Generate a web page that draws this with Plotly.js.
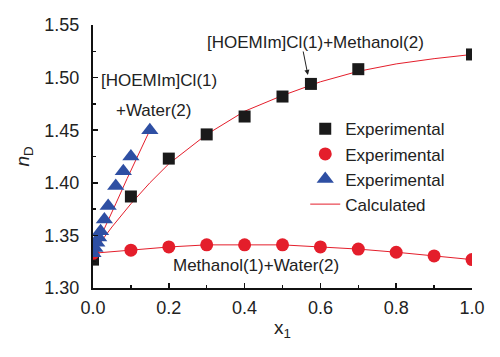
<!DOCTYPE html>
<html>
<head>
<meta charset="utf-8">
<script src="https://cdn.plot.ly/plotly-3.0.1.min.js"></script>
<style>html,body{margin:0;padding:0;background:#fff;}#chart{width:500px;height:357px;}</style>
</head>
<body>
<div id="chart"></div>
<script>
// [HOEMIm]Cl(1) + Methanol(2)
const x_meoh = [0, 0.1, 0.2, 0.3, 0.4, 0.5, 0.575, 0.7, 1.0];
const n_meoh = [1.327, 1.387, 1.423, 1.446, 1.463, 1.482, 1.494, 1.508, 1.522];
const xc_meoh = [0, 0.025, 0.05, 0.1, 0.15, 0.2, 0.3, 0.4, 0.5, 0.6, 0.7, 0.8, 0.9, 1.0];
const nc_meoh = [1.332, 1.346, 1.358, 1.380, 1.400, 1.418, 1.446, 1.468, 1.483, 1.496, 1.506, 1.513, 1.518, 1.522];
// Methanol(1) + Water(2)
const x_mw = [0, 0.1, 0.2, 0.3, 0.4, 0.5, 0.6, 0.7, 0.8, 0.9, 1.0];
const n_mw = [1.333, 1.336, 1.339, 1.341, 1.341, 1.341, 1.339, 1.337, 1.334, 1.3305, 1.327];
const nc_mw = [1.333, 1.336, 1.339, 1.341, 1.341, 1.341, 1.339, 1.337, 1.334, 1.3305, 1.327];
// [HOEMIm]Cl(1) + Water(2)
const x_w = [0, 0.005, 0.01, 0.015, 0.02, 0.03, 0.04, 0.06, 0.08, 0.1, 0.15];
const n_w = [1.333, 1.338, 1.343, 1.348, 1.354, 1.365, 1.378, 1.397, 1.411, 1.425, 1.450];
const xc_w = [0, 0.03, 0.06, 0.09, 0.12, 0.15];
const nc_w = [1.333, 1.356, 1.380, 1.404, 1.427, 1.450];

const FONT = 'Liberation Sans, Arial, sans-serif';
const RED = '#e41e2b';
const lineStyle = {color: RED, width: 1};

const traces = [
  {x: xc_meoh, y: nc_meoh, mode: 'lines', line: lineStyle, showlegend: false, hoverinfo: 'skip'},
  {x: x_mw, y: nc_mw, mode: 'lines', line: lineStyle, showlegend: false, hoverinfo: 'skip'},
  {x: xc_w, y: nc_w, mode: 'lines', line: lineStyle, showlegend: false, hoverinfo: 'skip'},
  {x: x_meoh, y: n_meoh, mode: 'markers', name: 'Experimental',
   marker: {symbol: 'square', size: 12, color: '#1a1a1a'}},
  {x: x_mw, y: n_mw, mode: 'markers', name: 'Experimental',
   marker: {symbol: 'circle', size: 13, color: RED}},
  {x: x_w, y: n_w, mode: 'markers', name: 'Experimental',
   marker: {symbol: 'triangle-up', size: 15, color: '#2e4fa3'}},
  {x: [null], y: [null], mode: 'lines', name: 'Calculated', line: lineStyle}
];

const layout = {
  width: 500, height: 357,
  margin: {l: 93, r: 28, t: 25, b: 69},
  paper_bgcolor: '#fff', plot_bgcolor: '#fff',
  font: {family: FONT, size: 17, color: '#222'},
  showlegend: true,
  legend: {x: 0.56, y: 0.672, xanchor: 'left', yanchor: 'top',
           bgcolor: 'rgba(0,0,0,0)', font: {family: FONT, size: 17, color: '#222'}},
  xaxis: {
    range: [0, 1.0], tickvals: [0, 0.2, 0.4, 0.6, 0.8, 1.0],
    ticktext: ['0.0', '0.2', '0.4', '0.6', '0.8', '1.0'],
    showgrid: false, zeroline: false, showline: true, linecolor: '#111', linewidth: 2,
    ticks: 'inside', ticklen: 5, tickwidth: 1.5, tickcolor: '#111',
    minor: {tickvals: [0.1, 0.3, 0.5, 0.7, 0.9], ticks: 'inside', ticklen: 3, tickwidth: 1.5, tickcolor: '#111'},
    tickfont: {family: FONT, size: 18, color: '#222'}, ticklabelstandoff: 2,
    title: {text: 'x<sub>1</sub>', font: {family: FONT, size: 19, color: '#222'}, standoff: 4}
  },
  yaxis: {
    range: [1.30, 1.55], tickvals: [1.30, 1.35, 1.40, 1.45, 1.50, 1.55],
    ticktext: ['1.30', '1.35', '1.40', '1.45', '1.50', '1.55'],
    showgrid: false, zeroline: false, showline: true, linecolor: '#111', linewidth: 2,
    ticks: 'inside', ticklen: 5, tickwidth: 1.5, tickcolor: '#111',
    minor: {tickvals: [1.325, 1.375, 1.425, 1.475, 1.525], ticks: 'inside', ticklen: 3, tickwidth: 1.5, tickcolor: '#111'},
    tickfont: {family: FONT, size: 18, color: '#222'}, ticklabelstandoff: 8,
    title: {text: '<i>n</i><sub>D</sub>', font: {family: FONT, size: 19, color: '#222'}, standoff: 10}
  },
  annotations: [
    {x: 0.586, y: 1.5338, xref: 'x', yref: 'y', text: '[HOEMIm]Cl(1)+Methanol(2)', showarrow: false,
     font: {family: FONT, size: 17, color: '#222'}},
    {x: 0.567, y: 1.5025, xref: 'x', yref: 'y', text: '', showarrow: true, ax: -5, ay: -25,
     arrowhead: 2, arrowsize: 1, arrowwidth: 1, arrowcolor: '#222'},
    {x: 0.174, y: 1.4977, xref: 'x', yref: 'y', text: '[HOEMIm]Cl(1)', showarrow: false,
     font: {family: FONT, size: 17, color: '#222'}},
    {x: 0.16, y: 1.4692, xref: 'x', yref: 'y', text: '+Water(2)', showarrow: false,
     font: {family: FONT, size: 17, color: '#222'}},
    {x: 0.43, y: 1.321, xref: 'x', yref: 'y', text: 'Methanol(1)+Water(2)', showarrow: false,
     font: {family: FONT, size: 17, color: '#222'}}
  ]
};

Plotly.newPlot('chart', traces, layout, {displayModeBar: false, staticPlot: true});
</script>
</body>
</html>
